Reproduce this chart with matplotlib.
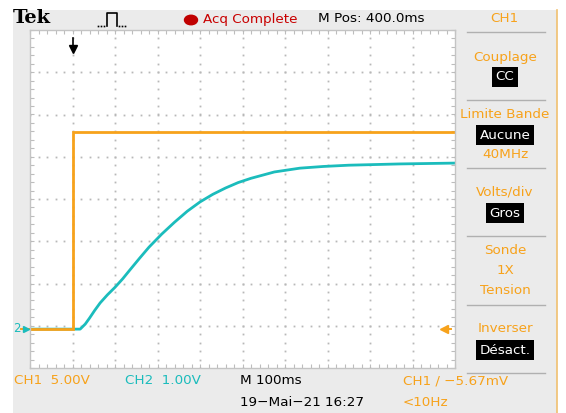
import matplotlib
matplotlib.use("Agg")
import matplotlib.pyplot as plt
import numpy as np
from matplotlib.lines import Line2D
from matplotlib.patches import Circle, Rectangle

# --- data (time in ms from left edge of screen) ---
ch1_time = [0, 101, 101, 1000]
ch1_volts = [0.0, 0.0, 23.3, 23.3]          # CH1 5.00 V/div

ch2_time = [0, 118, 130, 140, 152, 165, 182, 200, 218, 235, 258, 280, 310, 340, 370,
            400, 430, 460, 490, 520, 575, 635, 690, 750, 870, 1000]
ch2_volts = [0.0, 0.0, 0.12, 0.26, 0.44, 0.62, 0.81, 0.99, 1.19, 1.40, 1.68, 1.94, 2.25,
             2.53, 2.79, 3.01, 3.19, 3.34, 3.47, 3.57, 3.72, 3.81, 3.85, 3.88, 3.91, 3.93]  # CH2 1.00 V/div

ch1_scale = 5.0
ch2_scale = 1.0
ground_div = -3.08   # both grounds sit on the same level

ORANGE = "#f7a21b"
CYAN = "#1bbcbc"
BG = "#ebebeb"
W, H = 566, 413

fig = plt.figure(figsize=(W / 100, H / 100), dpi=100)
fig.patch.set_facecolor("white")


def fx(x):
    return x / W


def fy(y):
    return 1 - y / H


# gray instrument background
fig.add_artist(Rectangle((fx(13), fy(413)), (557 - 13) / W, (413 - 10) / H,
                         transform=fig.transFigure, facecolor=BG, edgecolor="none",
                         zorder=0))

# screen area
ax = fig.add_axes([fx(30), fy(368), (455 - 30) / W, (368 - 30) / H])
ax.set_facecolor("white")
ax.set_xlim(0, 1000)
ax.set_ylim(-4, 4)

# dotted graticule
for k in range(1, 10):
    ys = np.arange(-4, 4.01, 0.2)
    ax.plot(np.full_like(ys, k * 100), ys, ls="none", marker="s", ms=1.3,
            color="#b8b8b8", mec="none")
for k in range(-3, 4):
    xs = np.arange(0, 1000.1, 20)
    ax.plot(xs, np.full_like(xs, k), ls="none", marker="s", ms=1.3,
            color="#b8b8b8", mec="none")

ax.set_xticks(np.arange(0, 1001, 20))
ax.set_yticks(np.arange(-4, 4.01, 0.2))
ax.tick_params(direction="in", length=3, width=0.8, color="#bdbdbd",
               top=True, right=True, labelleft=False, labelbottom=False)
for s in ax.spines.values():
    s.set_color("#c4c4c4")
    s.set_linewidth(1.0)

# traces (CH1 drawn over CH2)
ax.plot(ch2_time, np.array(ch2_volts) / ch2_scale + ground_div, color=CYAN, lw=2.0)
ax.plot(ch1_time, np.array(ch1_volts) / ch1_scale + ground_div, color=ORANGE, lw=2.0,
        solid_joinstyle="miter")

# trigger position arrow (top) and trigger level arrow (right)
ax.plot([100, 100], [3.82, 3.55], color="black", lw=1.2, clip_on=False)
ax.plot([100], [3.55], marker="v", color="black", ms=6, clip_on=False)
ax.plot([975, 990], [ground_div, ground_div], color=ORANGE, lw=1.4)
ax.plot([975], [ground_div], marker="<", color=ORANGE, ms=6)

# --- header ---
fig.text(fx(13), fy(18), "Tek", family="DejaVu Serif", weight="bold", fontsize=14,
         va="center", ha="left")
icon_x = [107, 107, 117, 117]
icon_y = [26, 13, 13, 26]
fig.add_artist(Line2D([fx(v) for v in icon_x], [fy(v) for v in icon_y],
                      color="black", lw=1.2))
for dx in [98, 101, 104, 119, 122, 125]:
    fig.add_artist(Line2D([fx(dx)], [fy(26)], marker="s", ms=1.2, color="black",
                          mec="none"))
fig.add_artist(Circle((fx(191), fy(20)), 6.5 / W, transform=fig.transFigure,
                      color="#c00000"))
fig.text(fx(203), fy(19), "Acq Complete", color="#c80000", fontsize=9.7, va="center")
fig.text(fx(318), fy(19), "M Pos: 400.0ms", color="black", fontsize=9.7, va="center")
fig.text(fx(504), fy(19), "CH1", color=ORANGE, fontsize=9.7, va="center", ha="center")

# --- right menu panel ---
fig.add_artist(Line2D([fx(557), fx(557)], [fy(10), fy(413)], color="#f0c070", lw=1.2))
for sep in [32, 100, 168, 236, 305, 373]:
    fig.add_artist(Line2D([fx(467), fx(545)], [fy(sep), fy(sep)], color="#b0b0b0", lw=1.0))

menu = [
    ("Couplage", 57, False),
    ("CC", 77, True),
    ("Limite Bande", 114, False),
    ("Aucune", 135, True),
    ("40MHz", 155, False),
    ("Volts/div", 192, False),
    ("Gros", 213, True),
    ("Sonde", 250, False),
    ("1X", 270, False),
    ("Tension", 291, False),
    ("Inverser", 328, False),
    ("Désact.", 350, True),
]
for label, y, boxed in menu:
    if boxed:
        fig.text(fx(505), fy(y), label, color="white", fontsize=9.7, va="center",
                 ha="center", bbox=dict(facecolor="black", edgecolor="none", pad=2.6))
    else:
        fig.text(fx(505), fy(y), label, color=ORANGE, fontsize=9.7, va="center",
                 ha="center")

# --- channel ground markers on the left ---
fig.add_artist(Line2D([fx(21), fx(29)], [fy(329), fy(329)], color=ORANGE, lw=1.4))
fig.text(fx(13), fy(329), "2", color=CYAN, fontsize=8.5, va="center", ha="left")
fig.add_artist(Line2D([fx(26)], [fy(329)], marker=">", color=CYAN, ms=4))

# --- footer ---
fig.text(fx(14), fy(381), "CH1  5.00V", color=ORANGE, fontsize=9.7, va="center")
fig.text(fx(125), fy(381), "CH2  1.00V", color=CYAN, fontsize=9.7, va="center")
fig.text(fx(240), fy(381), "M 100ms", color="black", fontsize=9.7, va="center")
fig.text(fx(240), fy(402), "19\u2212Mai\u221221 16:27", color="black", fontsize=9.7, va="center")
fig.text(fx(403), fy(381), "CH1 / \u22125.67mV", color=ORANGE, fontsize=9.7, va="center")
fig.text(fx(403), fy(402), "<10Hz", color=ORANGE, fontsize=9.7, va="center")

fig.savefig("out.png", dpi=100, facecolor="white")
